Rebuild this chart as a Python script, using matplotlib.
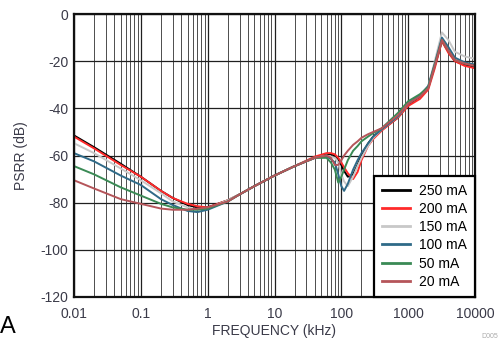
import numpy as np
import matplotlib
matplotlib.use("Agg")
from matplotlib import pyplot as plt
from matplotlib.ticker import FixedLocator, LogLocator, NullFormatter

plt.rcParams['font.family'] = ['Liberation Sans', 'DejaVu Sans']
plt.rcParams['axes.unicode_minus'] = False

# frequency grid in kHz
freq = [0.01, 0.02, 0.05, 0.1, 0.2, 0.3, 0.5, 0.7, 1, 2, 3, 5, 10, 20, 40, 60,
        70, 80, 90, 100, 110, 125, 150, 175, 200, 250, 300, 400, 700, 1000,
        1500, 2000, 2500, 3200, 4000, 5000, 7000, 10000]

psrr_250 = [-51.5, -56.5, -63.5, -69, -75, -78, -81, -82, -82, -79, -76.5, -73, -68.5, -64.5, -61, -59.5,
            -59.5, -60, -61.5, -64, -66.5, -69, -68, -64, -60, -55, -52, -49, -44, -38.5,
            -35, -31, -22, -11.5, -16, -20, -21.5, -22.5]
psrr_200 = [-52, -57, -64, -69, -75, -78, -80.5, -81.5, -82, -79, -76.5, -73, -68.5, -64.5, -60.5, -59,
            -59, -59.5, -61, -63, -65, -67.5, -70, -67, -62, -56, -53, -49.5, -44, -39,
            -36, -32, -23, -11.5, -16.5, -20, -22, -23]
psrr_150 = [-54.8, -59, -65.5, -70.5, -76, -79.5, -82, -83, -82.5, -79, -76.5, -73, -68.5, -64.5, -61, -60,
            -60.5, -61, -63, -68, -71, -73, -69, -64.5, -61, -56, -52.5, -49, -43.5, -38,
            -34.5, -30.5, -20, -7.8, -11, -16, -18, -19]
psrr_100 = [-59, -62.5, -68.5, -72.5, -78.5, -81, -83.5, -84, -83, -79.5, -76.5, -73, -68.5, -64.5, -61, -60.5,
            -61.5, -63, -68, -73, -75, -72, -66, -62, -59, -55, -52, -49, -43.5, -38,
            -34.5, -30.5, -21, -10, -14, -18.5, -20.5, -21.5]
psrr_50 = [-64.5, -68, -73.5, -77, -80.5, -82, -83, -83, -82.5, -79.5, -76.5, -73, -68.5, -64.5, -61, -61,
           -63, -66, -71.5, -69, -66, -62, -58, -56, -54, -52, -50.5, -48.5, -42, -37,
           -34, -31, -21.5, -11, -15.5, -19.5, -21, -22]
psrr_20 = [-70.5, -74, -78.5, -80.5, -82.5, -83, -83, -82.5, -82, -79.5, -76.5, -73, -68.5, -64.5, -61, -60,
           -61, -64, -64, -62, -60, -58, -55.5, -54, -52.5, -51, -50, -48.5, -43, -38,
           -35, -31.5, -22, -11, -15.5, -19.5, -21, -22]

labels = ["250 mA", "200 mA", "150 mA", "100 mA", "50 mA", "20 mA"]
series = [psrr_250, psrr_200, psrr_150, psrr_100, psrr_50, psrr_20]
colors = ["#000000", "#ff2a2a", "#c8c8c8", "#2f6a88", "#3a8a55", "#b5555a"]

fig = plt.figure(figsize=(5.04, 3.40), dpi=100)
ax = fig.add_axes([74 / 504, 1 - 297 / 340, 401 / 504, 283 / 340])

for y, c, lab in zip(series, colors, labels):
    ax.plot(freq, y, color=c, lw=1.4, label=lab)

ax.set_xscale('log')
ax.set_xlim(0.01, 10000)
ax.set_ylim(-120, 0)
ax.xaxis.set_major_locator(FixedLocator([0.01, 0.1, 1, 10, 100, 1000, 10000]))
ax.set_xticklabels(["0.01", "0.1", "1", "10", "100", "1000", "10000"])
ax.xaxis.set_minor_locator(LogLocator(base=10, subs=np.arange(2, 10)))
ax.xaxis.set_minor_formatter(NullFormatter())
ax.set_yticks(np.arange(-120, 1, 20))

ax.grid(True, which='major', color='#202020', lw=0.9)
ax.grid(True, which='minor', axis='x', color='#303030', lw=0.6)
ax.tick_params(which='both', length=0, labelsize=10, colors='#3a3a48')
ax.tick_params(axis='x', pad=7)
ax.tick_params(axis='y', pad=4)
for s in ax.spines.values():
    s.set_linewidth(1.6)
    s.set_color('#111111')

ax.set_xlabel("FREQUENCY (kHz)", fontsize=10, color='#3a3a48', labelpad=2)
ax.set_ylabel("PSRR (dB)", fontsize=10, color='#3a3a48', labelpad=9)

leg = ax.legend(loc='lower right', fontsize=10, frameon=True, fancybox=False,
                edgecolor='black', framealpha=1, borderaxespad=0, handlelength=2.0,
                labelspacing=0.3, borderpad=0.6, handletextpad=0.6)
leg.get_frame().set_linewidth(1.6)
for line in leg.get_lines():
    line.set_linewidth(2.0)

fig.text(0 / 504, 1 - 333 / 340, "A", fontsize=17, color='black', ha='left', va='baseline')
fig.text(498 / 504, 1 - 338 / 340, "D005", fontsize=5, color='#aaaaaa', ha='right', va='baseline')

fig.savefig("out.png", dpi=100)
